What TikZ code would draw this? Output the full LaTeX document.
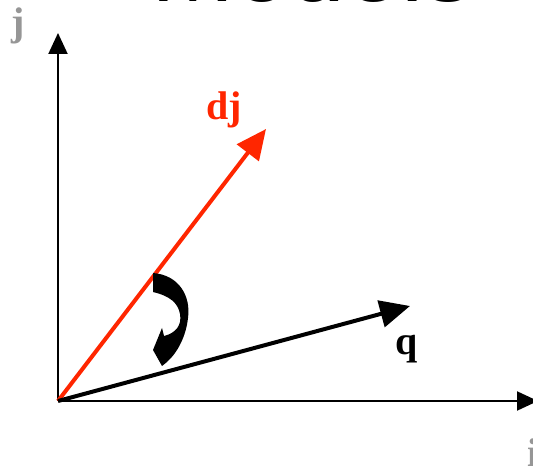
\documentclass[tikz,border=0pt]{standalone}
\usepackage{fontspec}
\setmainfont{Liberation Serif}
\newfontfamily\titlefont{Liberation Sans}
\usetikzlibrary{arrows.meta}
\definecolor{vecred}{RGB}{255,38,0}
\definecolor{axisgray}{RGB}{150,150,150}
\begin{document}
\begin{tikzpicture}[x=1pt, y=-1pt, line width=2pt,
    lbl/.style={font=\fontsize{40}{40}\selectfont\bfseries, inner sep=0pt, anchor=base},
    vec/.style={line width=4pt, -{Triangle[length=30pt, width=27pt]}}]
  \useasboundingbox (0,0) rectangle (533,470);
  \node[font=\titlefont\fontsize{100}{100}\selectfont, inner sep=0pt, anchor=base west] (title) at (150,2) {Models};
  % axes
  \coordinate (O) at (58,401);
  \coordinate (ytip) at (58,33);
  \coordinate (xtip) at (538,401);
  \draw[-{Triangle[length=21pt, width=19pt]}] (O) -- (ytip);
  \draw[-{Triangle[length=21pt, width=19pt]}] (O) -- (xtip);
  \node[lbl, text=axisgray] (jlab) at (18,36) {j};
  \node[lbl, text=axisgray] (ilab) at (533,466) {i};
  % document and query
  \coordinate (dtip) at (266,129);
  \coordinate (qtip) at (410,306);
  \draw[vec, vecred] (O) -- (dtip);
  \draw[vec] (O) -- (qtip);
  \node[lbl, text=vecred] (dlab) at (224,120) {dj};
  \node[lbl] (qlab) at (407,355) {q};
  % angle
  \fill (153,273) .. controls (179,275) and (191,296) .. (188,318)
    .. controls (186,336) and (178,352) .. (167,362) -- (162,366) -- (153,350)
    -- (162,328) -- (164,336) .. controls (176,333) and (182,325) .. (180,314)
    .. controls (178,303) and (170,296) .. (153,292) -- cycle;
\end{tikzpicture}
\end{document}
